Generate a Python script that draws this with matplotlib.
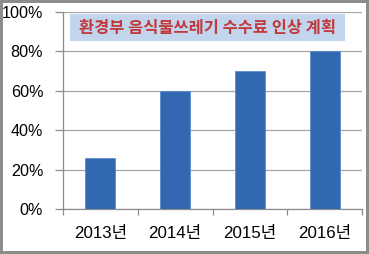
import matplotlib
matplotlib.use("Agg")
import matplotlib.pyplot as plt
from matplotlib.patches import Rectangle
from matplotlib.ticker import FixedLocator, FuncFormatter

categories = ["2013년", "2014년", "2015년", "2016년"]
values = [26, 60, 70, 80]
yticks = [0, 20, 40, 60, 80, 100]
title = "환경부 음식물쓰레기 수수료 인상 계획"

fam = ["Liberation Sans", "Noto Sans CJK KR", "DejaVu Sans"]
plt.rcParams["font.family"] = fam

W, H = 369, 254
fig = plt.figure(figsize=(W / 100, H / 100), dpi=100)
fig.patch.set_facecolor("white")

ax = fig.add_axes([63 / W, 1 - 209 / H, (362 - 63) / W, (209 - 12) / H])
x = list(range(len(categories)))
ax.bar(x, values, width=0.4, color="#3168b0", edgecolor="#5a8ccc", linewidth=0.6, zorder=3)
ax.set_xlim(-0.5, len(categories) - 0.5)
ax.set_ylim(0, 100)

ax.set_yticks(yticks)
ax.yaxis.set_major_formatter(FuncFormatter(lambda v, p: f"{int(v)}%"))
ax.tick_params(axis="y", direction="out", length=5.8, width=0.9, color="#8c8c8c",
               pad=8.5, labelsize=11.6, labelcolor="#000000")
ax.grid(axis="y", color="#a6a6a6", linewidth=0.9, zorder=0)

ax.xaxis.set_major_locator(FixedLocator([i - 0.5 for i in range(len(categories) + 1)]))
ax.xaxis.set_major_formatter(FuncFormatter(lambda v, p: ""))
ax.xaxis.set_minor_locator(FixedLocator(x))
ax.set_xticklabels(categories, minor=True)
ax.tick_params(axis="x", which="major", direction="out", length=4.5, width=0.9, color="#8c8c8c")
ax.tick_params(axis="x", which="minor", length=0, pad=12.5, labelsize=12.2, labelcolor="#000000")

for s in ["top", "right"]:
    ax.spines[s].set_visible(False)
for s in ["left", "bottom"]:
    ax.spines[s].set_color("#8c8c8c")
    ax.spines[s].set_linewidth(0.9)

# title box
fig.patches.append(Rectangle((70 / W, 1 - 41 / H), (345 - 70) / W, (41 - 14) / H,
                             transform=fig.transFigure, facecolor="#c3d5ec",
                             edgecolor="none", zorder=5))
fig.text(207.5 / W, 1 - 27.5 / H, title, ha="center", va="center", fontsize=11.8,
         fontweight="bold", color="#c0393b", family=["Noto Sans CJK KR", "DejaVu Sans"],
         zorder=6)

# outer frame
fig.patches.append(Rectangle((0, 0), 1, 1, transform=fig.transFigure, facecolor="none",
                             edgecolor="#8c8c8c", linewidth=4.3, zorder=10))

fig.savefig("out.png", dpi=100)
